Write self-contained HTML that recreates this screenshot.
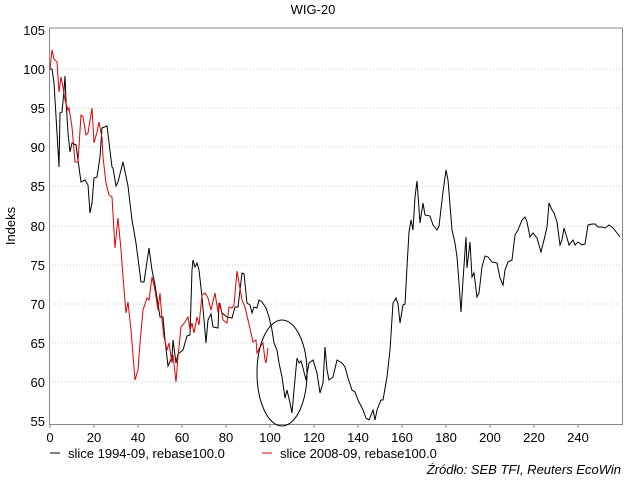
<!DOCTYPE html>
<html><head><style>
body{margin:0;background:#fff;}
svg{display:block;font-family:"Liberation Sans",Arial,sans-serif;}
</style></head><body>
<svg width="626" height="480" viewBox="0 0 626 480">
<text x="313" y="14" font-size="13" text-anchor="middle">WIG-20</text>
<text transform="translate(15,226) rotate(-90)" font-size="13" text-anchor="middle">Indeks</text>
<g stroke="#ccc" stroke-dasharray="1,2" stroke-width="1">
<line x1="49" x2="622" y1="69" y2="69"/><line x1="49" x2="622" y1="108" y2="108"/>
<line x1="49" x2="622" y1="147" y2="147"/><line x1="49" x2="622" y1="186" y2="186"/>
<line x1="49" x2="622" y1="226" y2="226"/><line x1="49" x2="622" y1="265" y2="265"/>
<line x1="49" x2="622" y1="304" y2="304"/><line x1="49" x2="622" y1="343" y2="343"/>
<line x1="49" x2="622" y1="382" y2="382"/>
</g>
<g stroke="#888" stroke-width="1" fill="none">
<path d="M49.5 28V424.5H622.5V28H49.5"/>
<path d="M50 424v4M94 424v4M138 424v4M182 424v4M226 424v4M270 424v4M314 424v4M358 424v4M402 424v4M446 424v4M490 424v4M534 424v4M578 424v4"/>
</g>
<g font-size="13" text-anchor="end">
<text x="45" y="35">105</text><text x="45" y="74">100</text><text x="45" y="113">95</text>
<text x="45" y="152">90</text><text x="45" y="191">85</text><text x="45" y="231">80</text>
<text x="45" y="270">75</text><text x="45" y="309">70</text><text x="45" y="348">65</text>
<text x="45" y="387">60</text><text x="45" y="426">55</text>
</g>
<g font-size="13" text-anchor="middle">
<text x="50" y="442">0</text><text x="94" y="442">20</text><text x="138" y="442">40</text>
<text x="182" y="442">60</text><text x="226" y="442">80</text><text x="270" y="442">100</text>
<text x="314" y="442">120</text><text x="358" y="442">140</text><text x="402" y="442">160</text>
<text x="446" y="442">180</text><text x="490" y="442">200</text><text x="534" y="442">220</text>
<text x="578" y="442">240</text>
</g>
<polyline fill="none" stroke="#000" stroke-width="1" points="50,69 52,69 54,83 57,133 59,167 60,113 62,112 64,90 65,76 66,100 68,133 70,152 72,143 76,145 78,160 81,182 85,180 88,185 90,213 92,203 94,178 97,177 100,157 102,128 107,126 112,167 113,168 116,186 118,182 123,162 128,186 132,220 136,243 141,282 144,282 149,248 152,270 155,285 160,317 163,317 165,340 168,366 172,357 173,340 176,363 178,354 183,350 187,336 190,335 192,270 193,260 195,267 197,263 199,270 202,297 204,320 206,343 208,320 211,314 213,327 218,328 219,303 222,313 227,317 232,318 235,307 238,307 242,273 244,274 247,303 250,305 252,313 254,307 257,308 259,300 262,302 266,308 269,317 272,330 274,343 277,350 279,363 282,377 285,398 287,390 290,403 292,413 294,390 297,358 299,363 301,361 303,368 306,380 309,363 313,360 317,373 320,393 323,383 325,347 327,370 329,380 333,377 337,360 342,363 345,367 348,378 352,390 355,392 358,400 363,410 366,418 369,420 373,410 375,420 377,410 381,400 383,400 387,377 390,350 393,303 396,298 398,304 400,323 403,305 405,304 407,267 409,232 411,220 413,230 415,197 417,181 420,223 423,203 425,215 430,216 433,225 437,230 439,226 443,192 446,170 448,180 452,230 455,243 457,257 459,283 461,312 463,280 466,237 467,268 470,242 472,277 474,273 477,297 479,293 482,267 485,256 488,257 492,262 497,263 500,278 503,285 505,270 508,262 512,260 515,235 518,230 522,220 525,217 527,222 530,237 533,233 537,238 541,252 544,240 547,227 549,203 552,210 554,213 557,222 560,245 562,240 564,228 567,238 569,245 573,240 575,245 578,242 582,245 585,244 588,225 592,224 595,224 598,227 602,227 605,228 609,225 613,228 617,233 620,237"/>
<polyline fill="none" stroke="#e00000" stroke-width="1" points="50,69 52,50 54,59 57,62 59,92 61,77 63,87 65,100 68,110 69,108 72,127 75,162 78,162 81,115 83,117 86,135 88,133 92,108 94,143 97,132 99,122 102,138 103,157 106,183 109,195 112,197 115,248 118,218 121,250 123,277 126,313 128,302 131,330 135,380 138,370 140,343 143,310 147,298 149,300 152,277 155,290 158,310 160,293 162,320 164,337 167,350 169,343 172,363 173,355 176,382 178,357 181,327 185,322 188,317 190,330 192,323 194,333 197,317 199,325 202,295 205,293 208,298 211,310 215,293 218,312 220,303 223,320 227,323 229,307 232,308 234,305 237,271 239,283 242,300 245,307 248,320 251,333 253,342 256,340 257,353 260,347 263,343 265,360 266,363 268,348"/>
<ellipse cx="282" cy="373" rx="25" ry="53" fill="none" stroke="#000" stroke-width="1"/>
<g font-size="13">
<line x1="50" y1="453" x2="60" y2="453" stroke="#000"/>
<text x="68" y="458">slice 1994-09, rebase100.0</text>
<line x1="262" y1="453" x2="272" y2="453" stroke="#e00000"/>
<text x="280" y="458">slice 2008-09, rebase100.0</text>
<text x="621" y="474" text-anchor="end" font-style="italic">Źródło: SEB TFI, Reuters EcoWin</text>
</g>
</svg>
</body></html>
